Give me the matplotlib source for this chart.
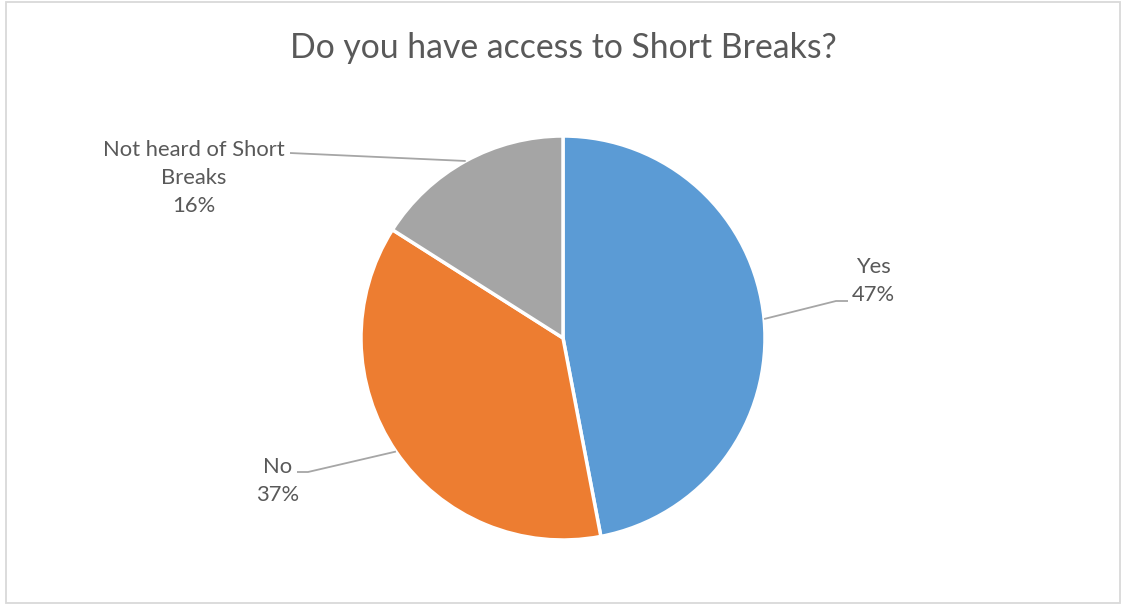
import numpy as np
import matplotlib
matplotlib.use("Agg")
import matplotlib.pyplot as plt
from matplotlib.patches import Rectangle

title = "Do you have access to Short Breaks?"
categories = ["Yes", "No", "Not heard of Short\nBreaks"]
values = [47, 37, 16]
colors = ["#5B9BD5", "#ED7D31", "#A5A5A5"]

W, H = 1122, 605
fig = plt.figure(figsize=(W / 100, H / 100), dpi=100)
ax = fig.add_axes([0, 0, 1, 1])
ax.set_xlim(0, W)
ax.set_ylim(0, H)
ax.set_aspect("equal")
ax.axis("off")

font = "Lato"
txtc = "#595959"

# border
ax.add_patch(Rectangle((6, 2), 1114, 601, fill=False, edgecolor="#d9d9d9", lw=1.3))

cx, cy, r = 563, H - 338, 202
wedges, _ = ax.pie(values, colors=colors, startangle=90, counterclock=False,
                   center=(cx, cy), radius=r,
                   wedgeprops=dict(edgecolor="white", linewidth=2.5))
ax.set_xlim(0, W)
ax.set_ylim(0, H)

ax.text(W / 2 + 2, H - 48, title, ha="center", va="center", fontsize=24.3,
        color=txtc, family=font)

# label layout: (text center x, text center y (px from top), leader elbow, leader end)
label_pos = [(873, 281, (836, 301), (848, 301)),
             (278, 481, (308, 472), (297, 472)),
             (194, 178, (290, 153), (290, 153))]

for w, cat, v, (tx, ty, elbow, end) in zip(wedges, categories, values, label_pos):
    ang = np.deg2rad((w.theta1 + w.theta2) / 2)
    sx, sy = cx + r * np.cos(ang), cy + r * np.sin(ang)
    ax.plot([sx, elbow[0], end[0]], [sy, H - elbow[1], H - end[1]],
            color="#a6a6a6", lw=1.3, solid_capstyle="butt")
    ax.text(tx, H - ty, f"{cat}\n{v}%", ha="center", va="center",
            fontsize=15.8, color=txtc, family=font, linespacing=1.5)

fig.savefig("out.png", dpi=100)
